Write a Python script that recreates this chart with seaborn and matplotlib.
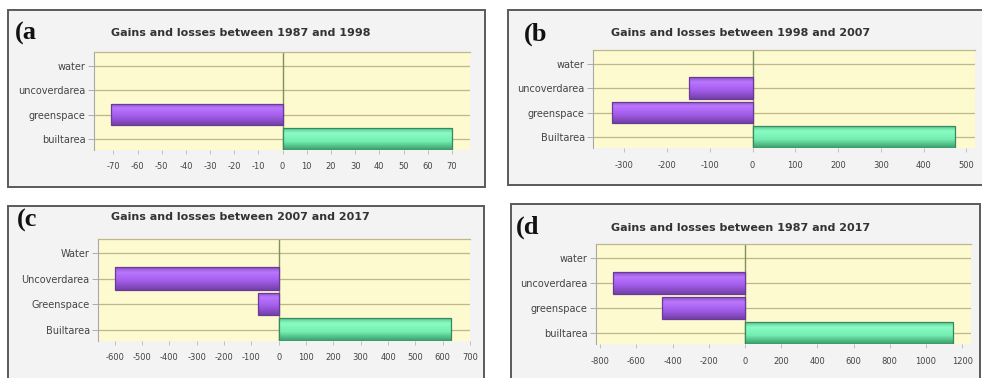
import numpy as np
import pandas as pd
import matplotlib
matplotlib.use("Agg")
import matplotlib.pyplot as plt
from matplotlib.colors import LinearSegmentedColormap
from matplotlib.patches import Rectangle
import seaborn as sns

# ---- data: land-cover change per period -----------------------------------
cats_a = ["water", "uncoverdarea", "greenspace", "builtarea"]
vals_a = [0, 0, -71, 70]
ticks_a = list(range(-70, 71, 10))

cats_b = ["water", "uncoverdarea", "greenspace", "Builtarea"]
vals_b = [0, -148, -328, 474]
ticks_b = list(range(-300, 501, 100))

cats_c = ["Water", "Uncoverdarea", "Greenspace", "Builtarea"]
vals_c = [0, -600, -76, 632]
ticks_c = list(range(-600, 701, 100))

cats_d = ["water", "uncoverdarea", "greenspace", "builtarea"]
vals_d = [0, -730, -460, 1150]
ticks_d = list(range(-800, 1201, 200))

titles = [
    "Gains and losses between 1987 and 1998",
    "Gains and losses between 1998 and 2007",
    "Gains and losses between 2007 and 2017",
    "Gains and losses between 1987 and 2017",
]
panel_tags = ["(a", "(b", "(c", "(d"]

# ---- styling -------------------------------------------------------------
sns.set_theme(style="white")
plt.rcParams["font.family"] = ["DejaVu Sans"]

W, H = 982, 378
fig = plt.figure(figsize=(W / 100, H / 100), dpi=100)
fig.patch.set_facecolor("white")

YELLOW = "#FEFAD0"
GRID = "#BDB78A"
ZERO = "#7F9060"
LOSS_EDGE = "#6A3A98"
GAIN_EDGE = "#38895F"
loss_cmap = LinearSegmentedColormap.from_list(
    "loss", [(0, "#8A52C2"), (0.22, "#BA76FF"), (0.6, "#A35DEA"), (1, "#7440A8")])
gain_cmap = LinearSegmentedColormap.from_list(
    "gain", [(0, "#58C690"), (0.22, "#8AFCC3"), (0.6, "#74EEB1"), (1, "#3B9C6B")])


def frac_rect(l, t, r, b):
    return [l / W, 1 - b / H, (r - l) / W, (b - t) / H]


def frame(l, t, r, b):
    fig.add_artist(Rectangle((l / W, 1 - b / H), (r - l) / W, (b - t) / H,
                             transform=fig.transFigure, facecolor="#F3F3F3",
                             edgecolor="#5A5A5A", linewidth=1.4, zorder=-5))


def shade_bars(ax):
    grad = np.linspace(0, 1, 64).reshape(-1, 1)
    for p in list(ax.patches):
        w = p.get_width()
        if abs(w) < 1e-9:
            p.set_visible(False)
            continue
        x0, y0, h = p.get_x(), p.get_y(), p.get_height()
        cmap = gain_cmap if w > 0 else loss_cmap
        im = ax.imshow(grad, cmap=cmap, aspect="auto", origin="upper",
                       extent=(x0, x0 + w, y0 + h, y0), zorder=2,
                       interpolation="bilinear")
        im.set_clip_path(p)
        p.set_facecolor("none")
        p.set_edgecolor(GAIN_EDGE if w > 0 else LOSS_EDGE)
        p.set_linewidth(0.9)
        p.set_zorder(3)


def panel(rect_px, cats, vals, ticks, xlim):
    ax = fig.add_axes(frac_rect(*rect_px))
    df = pd.DataFrame({"category": cats, "change": vals})
    df["direction"] = np.where(df["change"] >= 0, "gain", "loss")
    for y in range(len(cats)):
        ax.axhline(y, color=GRID, lw=0.9, zorder=1)
    sns.barplot(data=df, x="change", y="category", hue="direction",
                palette={"gain": "#7DF5B6", "loss": "#A860F0"},
                order=cats, dodge=False, legend=False, orient="h",
                width=0.88, ax=ax, zorder=2)
    shade_bars(ax)
    ax.axvline(0, color=ZERO, lw=1.0, zorder=1.5)
    ax.set_facecolor(YELLOW)
    ax.set_xlim(*xlim)
    ax.set_ylim(3.45, -0.56)
    ax.set_xticks(ticks)
    ax.set_xticklabels([str(t) for t in ticks], fontsize=6, color="#444444")
    ax.set_yticks(range(len(cats)))
    ax.set_yticklabels(cats, fontsize=7, color="#444444")
    ax.set_xlabel("")
    ax.set_ylabel("")
    ax.tick_params(axis="x", length=3, width=0.6, color="#B8B8B8",
                   pad=6, bottom=True)
    ax.tick_params(axis="y", length=4, width=0.6, color="#A0A0A0",
                   pad=2, left=True)
    for side in ["right", "bottom"]:
        ax.spines[side].set_visible(False)
    ax.spines["top"].set_color(GRID)
    ax.spines["top"].set_linewidth(0.9)
    ax.spines["left"].set_color("#A8A8A8")
    ax.spines["left"].set_linewidth(0.8)
    return ax


# outer frames
frame(8, 10, 485, 187)
frame(508, 10, 992, 185)
frame(8, 206, 484, 390)
frame(511, 204, 980, 390)

panel((94, 52, 470, 150), cats_a, vals_a, ticks_a, (-78, 77.5))
panel((593, 50, 975, 148), cats_b, vals_b, ticks_b, (-373, 520))
panel((98, 239, 470, 341), cats_c, vals_c, ticks_c, (-661, 697))
panel((596, 244, 971, 344), cats_d, vals_d, ticks_d, (-823, 1249))

# titles and panel tags
title_pos = [(241, 33), (741, 33), (240, 217), (741, 228)]
tag_pos = [(15, 33), (524, 34), (17, 220), (516, 227)]
for txt, (x, y) in zip(titles, title_pos):
    fig.text(x / W, 1 - y / H, txt, ha="center", va="center",
             fontsize=8, fontweight="bold", color="#333333")
for txt, (x, y) in zip(panel_tags, tag_pos):
    fig.text(x / W, 1 - y / H, txt, ha="left", va="center",
             fontsize=19, fontweight="bold", color="#111111",
             family=["Liberation Serif", "DejaVu Serif"])

fig.savefig("out.png", dpi=100)
